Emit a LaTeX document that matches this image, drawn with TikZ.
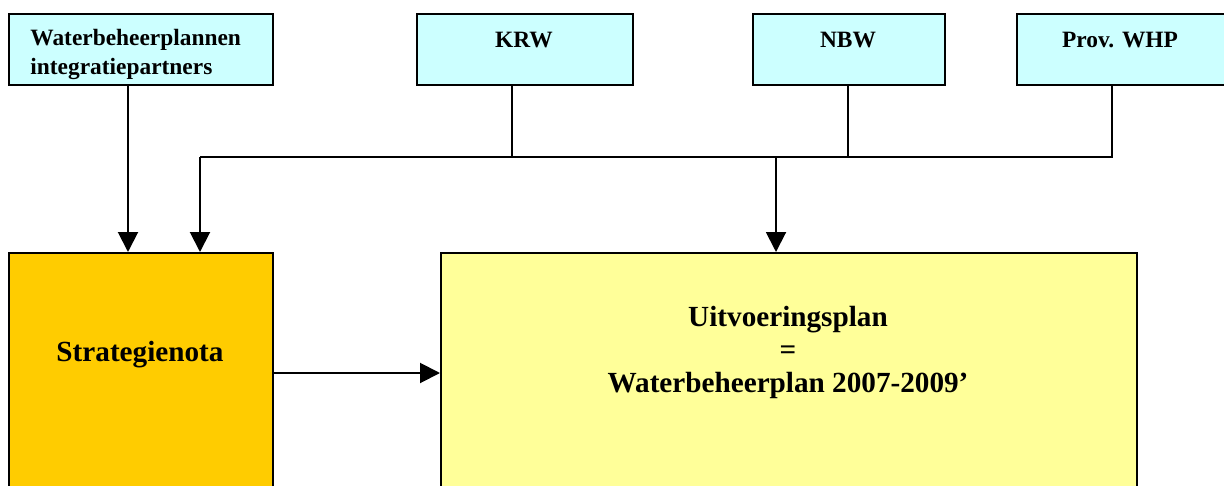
\documentclass[tikz,border=0pt]{standalone}
\usepackage{fontspec}
\setmainfont{Liberation Serif}
\usetikzlibrary{arrows.meta}
\definecolor{topcyan}{HTML}{CCFFFF}
\definecolor{stratorange}{HTML}{FFCC00}
\definecolor{planyellow}{HTML}{FFFF99}
\tikzset{
  box/.style={draw=black, line width=1pt, inner sep=0pt, anchor=north west},
  topbox/.style={box, fill=topcyan, minimum height=35.5pt},
  smalltext/.style={font=\fontsize{11.7}{14.5}\selectfont\bfseries, inner sep=0pt},
  bigtext/.style={font=\fontsize{14.6}{16.5}\selectfont\bfseries, inner sep=0pt, align=center},
  conn/.style={line width=1pt},
  arr/.style={conn, -{Triangle[width=10pt,length=10pt]}}
}
\begin{document}
\begin{tikzpicture}[x=0.5pt,y=-0.5pt]
\useasboundingbox (0,0) rectangle (1224,486);
\clip (0,0) rectangle (1224,486);
% top boxes
\node[topbox, minimum width=132pt] (wbp) at (8,13) {};
\node[topbox, minimum width=108pt] (krw) at (416,13) {};
\node[topbox, minimum width=96pt] (nbw) at (752,13) {};
\node[topbox, minimum width=106pt] (prov) at (1016,13) {};
\node[smalltext, anchor=west, align=left] (wbpt) at (30,54) {Waterbeheerplannen\\integratiepartners};
\node[smalltext] (krwt) at (524,40) {KRW};
\node[smalltext] (nbwt) at (848,40) {NBW};
\node[smalltext] (provt) at (1120,40) {Prov. WHP};
% bottom boxes
\node[box, fill=stratorange, minimum width=132pt, minimum height=130pt] (strat) at (8,252) {};
\node[box, fill=planyellow, minimum width=348pt, minimum height=130pt] (plan) at (440,252) {};
\node[bigtext] (stratt) at (140,355) {Strategienota};
\node[bigtext] (plant) at (788,352) {Uitvoeringsplan\\=\\Waterbeheerplan 2007-2009’};
% connectors
\coordinate (jl) at (200,157);
\coordinate (jr) at (1112,157);
\coordinate (jm) at (776,157);
\draw[conn] (krw.south -| 512,0) -- (512,157);
\draw[conn] (nbw.south -| 848,0) -- (848,157);
\draw[conn] (prov.south -| jr) -- (jr) -- (jl);
\draw[arr] (jl) -- (jl |- strat.north);
\draw[arr] (jm) -- (jm |- plan.north);
\draw[arr] (wbp.south -| 128,0) -- (128,0 |- strat.north);
\draw[arr] (strat.east |- 0,373) -- (plan.west |- 0,373);
\end{tikzpicture}
\end{document}
